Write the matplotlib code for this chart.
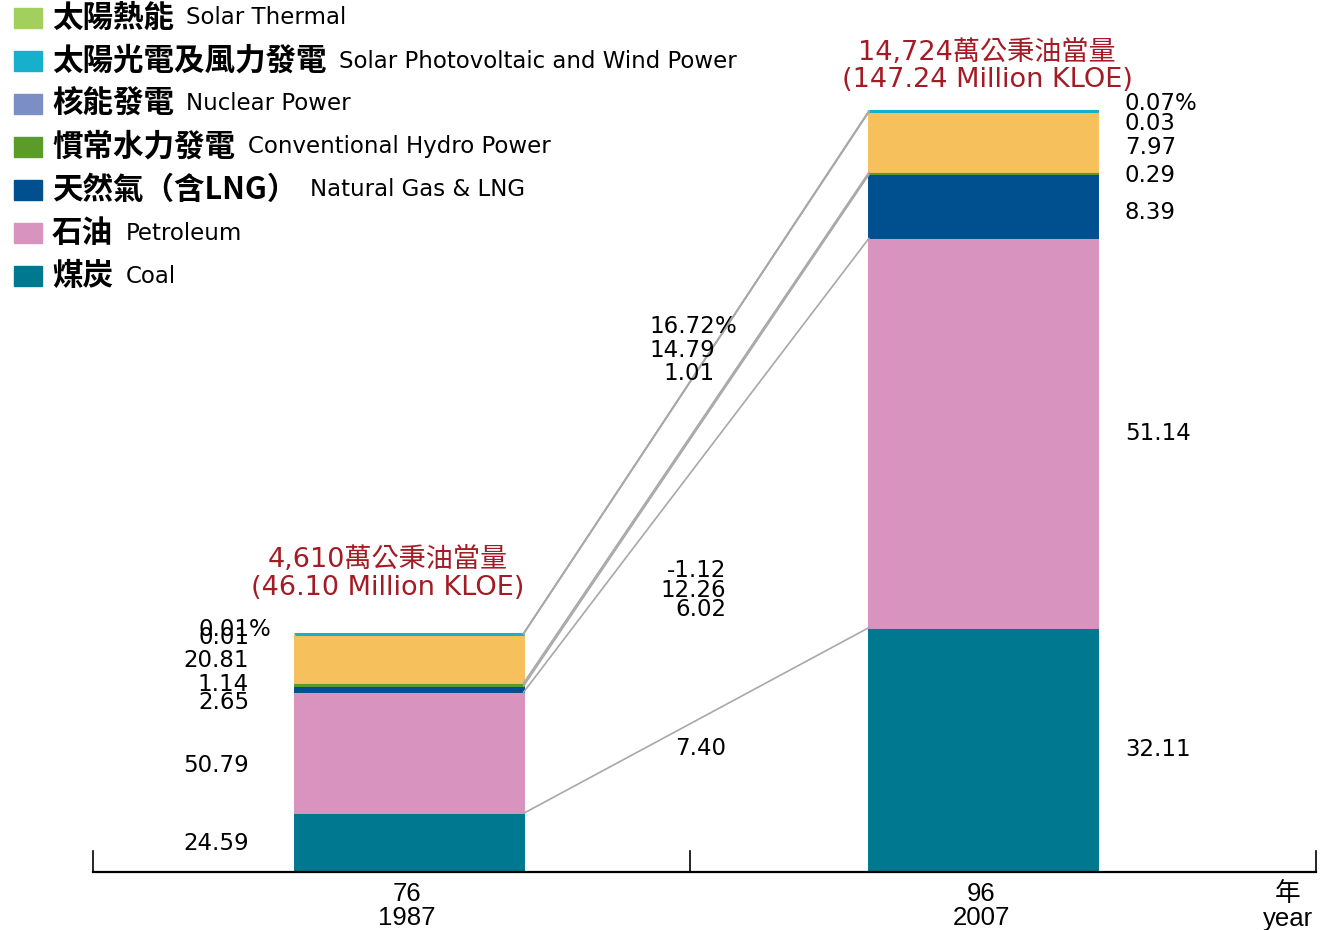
import matplotlib
matplotlib.use("Agg")
import matplotlib.pyplot as plt
from matplotlib.patches import Rectangle

# data: share of total energy supply (%) and average annual growth rate (%)
year_labels = ["76\n1987", "96\n2007"]
totals = [46.10, 147.24]  # million KLOE
total_zh = ["4,610萬公秉油當量", "14,724萬公秉油當量"]
total_en = ["(46.10 Million KLOE)", "(147.24 Million KLOE)"]

sources_zh = ["煤炭", "石油", "天然氣（含LNG）", "慣常水力發電", "核能發電",
              "太陽光電及風力發電", "太陽熱能"]
sources_en = ["Coal", "Petroleum", "Natural Gas & LNG", "Conventional Hydro Power",
              "Nuclear Power", "Solar Photovoltaic and Wind Power", "Solar Thermal"]
share_1987 = [24.59, 50.79, 2.65, 1.14, 20.81, 0.01, 0.01]
share_2007 = [32.11, 51.14, 8.39, 0.29, 7.97, 0.03, 0.07]
growth = [7.40, 6.02, 12.26, -1.12, 1.01, 14.79, 16.72]

bar_colors = ["#00788f", "#d893be", "#00508f", "#5b9b2a", "#f6c05c", "#7b8fc6", "#16b0cc"]
legend_colors = ["#00788f", "#d893be", "#00508f", "#5b9b2a", "#7b8fc6", "#16b0cc", "#a3cf5e"]

NUM_FONT = ["DejaVu Sans"]
CJK = ["DejaVu Sans", "Noto Sans CJK TC"]
RED = "#a31c25"

W, H = 1329, 930
fig = plt.figure(figsize=(W / 100, H / 100), dpi=100)

# pixel scale of the bars: bottom at y=872 px, 5.17 px per million KLOE
base_px = 872
px_per_unit = 5.17
ax = fig.add_axes([0, (H - base_px) / H, 1, base_px / H])
ax.set_xlim(0, W)
ax.set_ylim(0, base_px / px_per_unit)
ax.axis("off")

bar_x = [409, 983.5]
bar_w = 229
shares = [share_1987, share_2007]

tops = []
for i in range(2):
    bottom = 0.0
    seg_tops = []
    for j, s in enumerate(shares[i]):
        h = s * totals[i] / 100
        ax.bar(bar_x[i], h, width=bar_w, bottom=bottom, color=bar_colors[j],
               edgecolor=bar_colors[j], linewidth=1.4 if j < 6 else 2.2)
        bottom += h
        seg_tops.append(bottom)
    tops.append(seg_tops)

# connector lines between the tops of each segment
x_left = bar_x[0] + bar_w / 2
x_right = bar_x[1] - bar_w / 2
for j in range(len(share_1987)):
    ax.plot([x_left, x_right], [tops[0][j], tops[1][j]], color="#a8a8a8", lw=1.2,
            solid_capstyle="round", zorder=1)

# overlay axes in pixel coordinates for text and decorations
ov = fig.add_axes([0, 0, 1, 1])
ov.set_xlim(0, W)
ov.set_ylim(H, 0)
ov.axis("off")

# baseline with ticks
ov.plot([93, 1316], [872, 872], color="black", lw=1.6)
for tx in [93, 690, 1316]:
    ov.plot([tx, tx], [851, 872], color="black", lw=1.2)
for i, lab in enumerate(year_labels):
    ov.text(bar_x[i] - 2, 906, lab, ha="center", va="center", fontsize=18.5,
            family=["Liberation Sans"], linespacing=1.05)
ov.text(1288, 906, "年\nyear", ha="center", va="center", fontsize=18.5,
        family=["Liberation Sans", "Noto Sans CJK TC"], linespacing=1.05)

# total labels
total_pos = [(388, 560, 588), (987, 53, 80)]
for i in range(2):
    x, y1, y2 = total_pos[i]
    ov.text(x, y1, total_zh[i], ha="center", va="center", fontsize=19.5,
            color=RED, family=CJK)
    ov.text(x, y2, total_en[i], ha="center", va="center", fontsize=19.5,
            color=RED, family=NUM_FONT)

# share labels (y positions in pixels, coal -> solar thermal)
left_y = [843, 765, 702, 684, 660, 637, 629]
right_y = [749, 433, 212, 175, 147, 123, 104]
growth_y = [748, 609, 590, 570, 373, 350, 326]
growth_x = [726, 726, 726, 726, 715, 715, 715]

fs = 16.5
for j in range(len(share_1987)):
    last = j == len(share_1987) - 1
    ov.text(249, left_y[j], f"{share_1987[j]:.2f}", ha="right", va="center",
            fontsize=fs, family=NUM_FONT)
    if last:
        ov.text(249, left_y[j], "%", ha="left", va="center", fontsize=fs, family=NUM_FONT)
    ov.text(1125, right_y[j], f"{share_2007[j]:.2f}" + ("%" if last else ""),
            ha="left", va="center", fontsize=fs, family=NUM_FONT)
    ov.text(growth_x[j], growth_y[j], f"{growth[j]:.2f}", ha="right", va="center",
            fontsize=fs, family=NUM_FONT)
    if last:
        ov.text(growth_x[j], growth_y[j], "%", ha="left", va="center", fontsize=fs,
                family=NUM_FONT)

# legend (top to bottom: solar thermal ... coal)
legend_y = [276, 233, 190, 147, 104, 61, 18]
for j in range(len(sources_zh)):
    y = legend_y[j]
    ov.add_patch(Rectangle((14, y - 10), 28, 20, color=legend_colors[j]))
    zh = ov.text(52, y, sources_zh[j], ha="left", va="center", fontsize=22,
                 family=["Noto Sans CJK TC"], fontweight="bold")
    ov.annotate(sources_en[j], xy=(1, 0.5), xycoords=zh, xytext=(9, 0),
                textcoords="offset points", ha="left", va="center",
                fontsize=16.5, family=NUM_FONT)

fig.savefig("out.png", dpi=100)
